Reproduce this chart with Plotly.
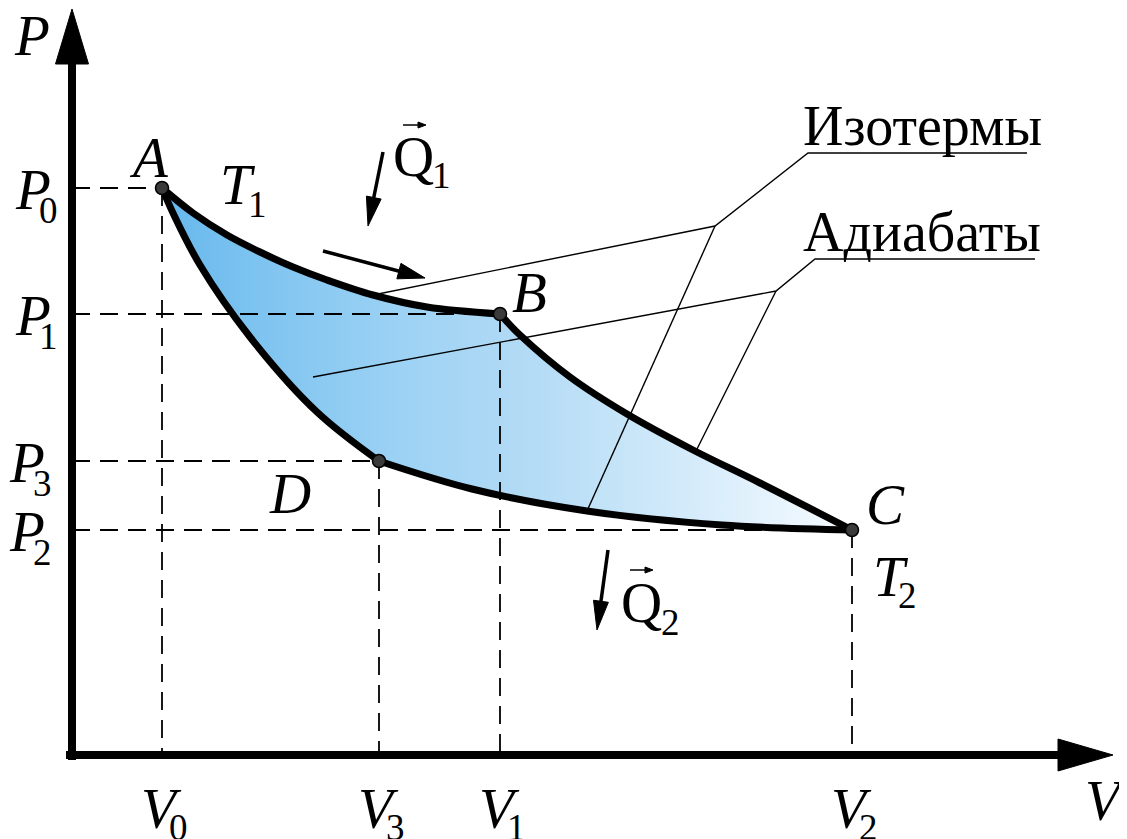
import numpy as np
import plotly.graph_objects as go

# Carnot cycle on the P-V plane (schematic units, origin at the axes crossing)
state_names = ["A", "B", "C", "D"]
state_V = [90, 428, 780, 307]
state_P = [567, 441, 225, 294]
state_subs = ["0", "1", "2", "3"]   # V0/P0 at A, V1/P1 at B, ...

# isotherm T1: A -> B
iso_hot_V = [90, 121, 155, 188, 221, 255, 301, 355, 428]
iso_hot_P = [567, 542, 520, 503, 488, 475, 460, 448, 441]
# adiabat: B -> C
adia_exp_V = [428, 448, 498, 555, 621, 688, 780]
adia_exp_P = [441, 420, 378, 341, 305, 272, 225]
# isotherm T2: C -> D
iso_cold_V = [780, 650, 515, 400, 307]
iso_cold_P = [225, 230, 244, 266, 294]
# adiabat: D -> A
adia_comp_V = [307, 245, 178, 128, 101, 90]
adia_comp_P = [294, 343, 418, 490, 542, 567]

# callout leaders: underline end/start, knee, ends
iso_callout_V = [955, 736, 643, 301, None, 643, 515]
iso_callout_P = [602, 602, 529, 460, None, 529, 244]
adia_callout_V = [963, 743, 704, 241, None, 704, 624]
adia_callout_P = [496, 496, 464, 378, None, 464, 304]

SERIF = "Liberation Serif"
BIG, SUB = 57, 37

fig = go.Figure()


def line(x, y, width=1.6, dash=None, shape="linear"):
    fig.add_trace(go.Scatter(x=x, y=y, mode="lines", hoverinfo="skip",
                             line=dict(color="black", width=width, dash=dash, shape=shape)))


def head(tail, tip, length, width):
    dx, dy = tip[0] - tail[0], tip[1] - tail[1]
    n = np.hypot(dx, dy)
    ux, uy = dx / n, dy / n
    bx, by = tip[0] - ux * length, tip[1] - uy * length
    px, py = -uy * width / 2, ux * width / 2
    return (bx, by), [tip[0], bx + px, bx - px, tip[0]], [tip[1], by + py, by - py, tip[1]]


def arrow(tail, tip, length, width, shaft):
    base, hx, hy = head(tail, tip, length, width)
    line([tail[0], base[0] + (tip[0] - base[0]) * 0.2], [tail[1], base[1] + (tip[1] - base[1]) * 0.2], width=shaft)
    fig.add_trace(go.Scatter(x=hx, y=hy, mode="lines", fill="toself", fillcolor="black",
                             line=dict(color="black", width=1), hoverinfo="skip"))


# filled cycle
fill_V = iso_hot_V + adia_exp_V[1:] + iso_cold_V[1:] + adia_comp_V[1:]
fill_P = iso_hot_P + adia_exp_P[1:] + iso_cold_P[1:] + adia_comp_P[1:]
fig.add_trace(go.Scatter(
    x=fill_V, y=fill_P, mode="lines", fill="toself", line=dict(width=0, shape="spline"),
    fillgradient=dict(type="horizontal",
                      colorscale=[[0, "#66b7ec"], [0.13, "#7cc3f0"], [0.35, "#9dd2f4"],
                                  [0.5, "#afd9f5"], [0.66, "#c5e4f8"], [1, "#f7fbff"]]),
    hoverinfo="skip"))

# dashed guides
for v, p in zip(state_V, state_P):
    line([0, v], [p, p], width=1.8, dash="18px,10px")
    line([v, v], [p, 0], width=1.8, dash="18px,10px")

# callouts
line(iso_callout_V, iso_callout_P, width=1.4)
line(adia_callout_V, adia_callout_P, width=1.4)

# cycle curves
for cv, cp in [(iso_hot_V, iso_hot_P), (adia_exp_V, adia_exp_P),
               (iso_cold_V, iso_cold_P), (adia_comp_V, adia_comp_P)]:
    line(cv, cp, width=7, shape="spline")

fig.add_trace(go.Scatter(x=state_V, y=state_P, mode="markers", hoverinfo="skip",
                         marker=dict(size=13, color="#3a3a3a", line=dict(color="black", width=1.5))))

# axes with arrowheads
arrow((0, -5), (0, 746), 55, 33, 8)
arrow((-6, 0), (1041, 0), 55, 32, 8)

# process / heat arrows
arrow((251, 504), (353, 477), 27, 16, 3.5)
arrow((311, 603), (296, 529), 29, 15, 3.5)
arrow((536, 205), (525, 125), 29, 15, 3.5)
arrow((331, 630), (354, 630), 8, 6, 1.5)
arrow((558, 185), (581, 185), 8, 6, 1.5)


def text(x, y, s, size=BIG, italic=False):
    fig.add_annotation(x=x, y=y, text=f"<i>{s}</i>" if italic else s, showarrow=False,
                       xanchor="center", yanchor="middle",
                       font=dict(family=SERIF, size=size, color="black"))


text(-40, 720, "P", italic=True)
text(1033, -45, "V", italic=True)
for name, v, p, dx, dy in zip(state_names, state_V, state_P,
                              [-13, 29, 33, -89], [31, 22, 26, -32]):
    text(v + dx, p + dy, name, italic=True)

# pressure levels on the P axis, volumes on the V axis
for s, v, p in zip(state_subs, state_V, state_P):
    dx = -39 if p > 400 else -45
    text(dx, p - 1, "P", italic=True)
    text(dx + 15, p - 22, s, size=SUB)
    text(v - 1, -53, "V", italic=True)
    text(v + 16, -72, s, size=SUB)

text(166, 571, "T", italic=True)
text(185, 551, "1", size=SUB)
text(819, 179, "T", italic=True)
text(835, 160, "2", size=SUB)
text(341, 599, "Q")
text(369, 580, "1", size=SUB)
text(569, 153, "Q")
text(598, 133, "2", size=SUB)
text(850, 629, "Изотермы", size=56)
text(850, 523, "Адиабаты", size=56)

# the page body keeps its default 8px margin, so the figure is 16px smaller
fig.update_layout(
    width=1119, height=831, margin=dict(l=0, r=0, t=0, b=0),
    paper_bgcolor="white", plot_bgcolor="white", showlegend=False,
    xaxis=dict(range=[-64, 1055], visible=False, fixedrange=True),
    yaxis=dict(range=[-84, 747], visible=False, fixedrange=True),
)

fig.write_html("out.html")
